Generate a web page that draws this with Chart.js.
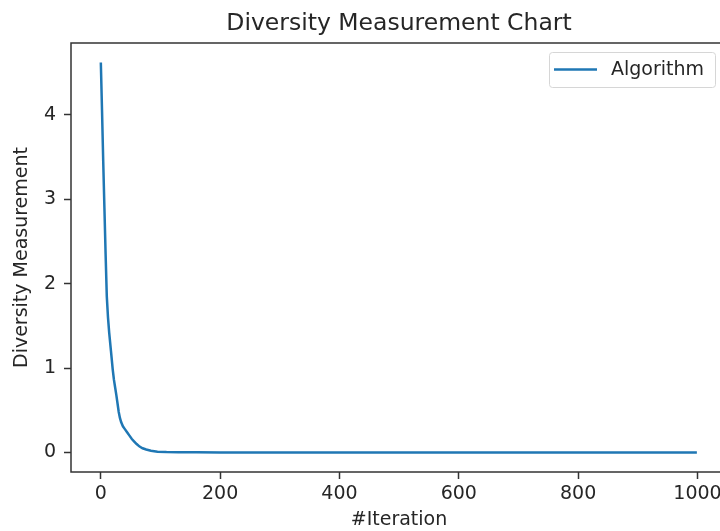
<!DOCTYPE html>
<html>
<head>
<meta charset="utf-8">
<script src="https://cdn.jsdelivr.net/npm/chart.js@4"></script>
<style>
  html, body { margin: 0; padding: 0; background: #fff; overflow: hidden; }
  #wrap { width: 727px; height: 531px; position: relative; }
</style>
</head>
<body>
<div id="wrap"><canvas id="chart"></canvas></div>
<script>
// valores
const iteracoes = [0, 2, 4, 6, 8, 10, 12, 14, 17, 20, 22, 24, 26, 28, 30, 32, 34, 37, 40, 44, 48, 52, 56, 60, 65, 70, 76, 84, 95, 110, 130, 160, 200, 300, 400, 500, 600, 700, 800, 900, 999];
const diversidade = [4.62, 4.05, 3.45, 2.9, 2.35, 1.85, 1.6, 1.42, 1.2, 0.98, 0.86, 0.77, 0.68, 0.58, 0.48, 0.41, 0.36, 0.31, 0.28, 0.24, 0.2, 0.16, 0.13, 0.1, 0.07, 0.05, 0.035, 0.02, 0.01, 0.005, 0.003, 0.002, 0.001, 0, 0, 0, 0, 0, 0, 0, 0];
const ticksX = [0, 200, 400, 600, 800, 1000];
const ticksY = [0, 1, 2, 3, 4];

const COR_LINHA = '#1f77b4';
const COR_TEXTO = '#262626';
const COR_EIXO = '#333333';
const FONTE = 'DejaVu Sans';

// titulo centrado na area do grafico, moldura e legenda no estilo do matplotlib
const molduraLegenda = {
  id: 'molduraLegenda',
  afterDraw(chart) {
    const { ctx, chartArea: a } = chart;
    ctx.save();
    ctx.fillStyle = COR_TEXTO;
    ctx.font = '23.5px "' + FONTE + '"';
    ctx.textAlign = 'center';
    ctx.textBaseline = 'middle';
    ctx.fillText('Diversity Measurement Chart', (a.left + a.right) / 2, 24);

    ctx.strokeStyle = COR_EIXO;
    ctx.lineWidth = 1.5;
    ctx.strokeRect(a.left, a.top, a.right - a.left, a.bottom - a.top);

    const ds = chart.data.datasets[0];
    ctx.beginPath();
    ctx.roundRect(549.5, 52.5, 166, 35, 3);
    ctx.fillStyle = 'rgba(255,255,255,0.8)';
    ctx.fill();
    ctx.strokeStyle = '#d6d6d6';
    ctx.lineWidth = 1;
    ctx.stroke();

    ctx.beginPath();
    ctx.moveTo(554, 69.5);
    ctx.lineTo(597, 69.5);
    ctx.strokeStyle = ds.borderColor;
    ctx.lineWidth = ds.borderWidth;
    ctx.stroke();

    ctx.fillStyle = COR_TEXTO;
    ctx.font = '19px "' + FONTE + '"';
    ctx.textAlign = 'left';
    ctx.fillText(ds.label, 611, 70);
    ctx.restore();
  }
};

new Chart(document.getElementById('chart'), {
  type: 'line',
  data: {
    datasets: [{
      label: 'Algorithm',
      data: iteracoes.map((it, i) => ({ x: it, y: diversidade[i] })),
      borderColor: COR_LINHA,
      borderWidth: 2.5,
      pointRadius: 0,
      tension: 0,
      fill: false
    }]
  },
  options: {
    responsive: true,
    maintainAspectRatio: false,
    animation: false,
    layout: { padding: { top: 43, left: 0, right: 0, bottom: 0 } },
    plugins: {
      legend: { display: false },
      tooltip: { enabled: false },
      title: { display: false }
    },
    scales: {
      x: {
        type: 'linear',
        min: -50,
        max: 1049.5,
        afterBuildTicks: s => { s.ticks = ticksX.map(v => ({ value: v })); },
        afterFit: s => { s.height = 59; },
        border: { display: false },
        grid: { drawOnChartArea: false, drawTicks: true, tickLength: 7, tickColor: COR_EIXO, tickWidth: 1.5 },
        ticks: { color: COR_TEXTO, font: { family: FONTE, size: 19 }, padding: 4, maxRotation: 0, callback: v => String(v) },
        title: { display: true, text: '#Iteration', color: COR_TEXTO, font: { family: FONTE, size: 19 }, padding: { top: 0, bottom: 0 } }
      },
      y: {
        type: 'linear',
        min: -0.231,
        max: 4.851,
        afterBuildTicks: s => { s.ticks = ticksY.map(v => ({ value: v })); },
        afterFit: s => { s.width = 71; },
        border: { display: false },
        grid: { drawOnChartArea: false, drawTicks: true, tickLength: 7, tickColor: COR_EIXO, tickWidth: 1.5 },
        ticks: { color: COR_TEXTO, font: { family: FONTE, size: 19 }, padding: 8, callback: v => String(v) },
        title: { display: true, text: 'Diversity Measurement', color: COR_TEXTO, font: { family: FONTE, size: 19 }, padding: { top: 11, bottom: 0 } }
      }
    }
  },
  plugins: [molduraLegenda]
});
</script>
</body>
</html>
